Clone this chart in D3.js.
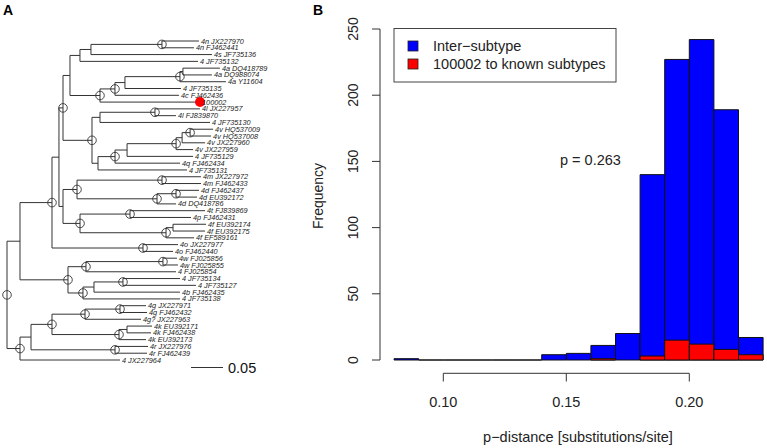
<!DOCTYPE html>
<html><head><meta charset="utf-8">
<script src="https://cdn.jsdelivr.net/npm/d3@7"></script>
<style>body{margin:0;background:#fff}svg{display:block;font-family:"Liberation Sans",Arial,Helvetica,sans-serif}</style>
</head><body><svg id="c" width="767" height="448"></svg>
<script>
// ---------------- data ----------------
// Panel B histogram
const binStarts = [0.08,0.09,0.10,0.11,0.12,0.13,0.14,0.15,0.16,0.17,0.18,0.19,0.20,0.21,0.22];
const binWidth = 0.01;
const interCounts  = [1,0,0,0,0,0,4,5,11,20,140,227,242,189,17];
const sampleCounts = [0,0,0,0,0,0,0,0,1,0,3,15,12,8,4];
const yTicks = [0,50,100,150,200,250];
const xTicks = [0.10,0.15,0.20];
const legendLabels = ["Inter\u2212subtype","100002 to known subtypes"];
const legendColors = ["#0000ff","#ff0000"];
const pValueLabel = "p = 0.263";
const xTitle = "p\u2212distance [substitutions/site]";
const yTitle = "Frequency";

// Panel A tree (Newick pieces, branch lengths in substitutions/site, "*" = supported node)
const highlightTip = "100002";
const scaleBarValue = 0.05;
const scaleBarStart = 0.2875;
const nwB  = "(((4n_JX227970:0.0578,4n_FJ462441:0.05)*:0.1109,4s_JF735136:0.1891):0.0172,4_JF735132:0.1844):0.0156";
const nwF  = "(((((4a_DQ418789:0.0578,4a_DQ988074:0.0453):0.0047,4a_Y11604:0.0719)*:0.0859,4_JF735135:0.0875):0.0156,4c_FJ462436:0.1)*:0.0234,100002:0.1563)*:0.0469";
const nwI  = "((4l_JX227957:0.0703,4l_FJ839870:0.0328)*:0.0859,4_JF735130:0.1719):0.0125";
const nwK  = "((((((4v_HQ537009:0.0359,4v_HQ537008:0.0328)*:0.0125,4v_JX227960:0.0359):0.0094,4v_JX227959:0.0266)*:0.0766,4_JF735129:0.1031):0.0188,4q_FJ462434:0.1016)*:0.0266,4_JF735131:0.1391):0.0094";
const nwMD = "((4m_JX227972:0.0609,4m_FJ462433:0.0609)*:0.1328,((4d_FJ462437:0.0359,4d_EU392172:0.0328)*:0.0297,4d_DQ418786:0.0297)*:0.125)*:0.0219";
const nwTF = "((4t_FJ839869:0.1172,4p_FJ462431:0.0953)*:0.0781,((4f_EU392174:0.0516,4f_EU392175:0.05):0.0109,4f_EF589161:0.0438)*:0.1344)*:0.0266";
const nwO  = "(4o_JX227977:0.0547,4o_FJ462440:0.0469)*:0.1422";
const nwW  = "(((4w_FJ025856:0.0219,4w_FJ025855:0.0234)*:0.1203,4_FJ025854:0.1406)*:0.0281,(((4_JF735134:0.0891,4_JF735127:0.1141)*:0.0453,4b_FJ462435:0.1344):0.0172,4_JF735138:0.1516)*:0.0234)*:0.075";
const nwG2 = "(((4g_JX227971:0.0406,4g_FJ462432:0.0422)*:0.0547,4g?_JX227963:0.0875)*:0.0516,((4k_EU392171:0.0391,4k_FJ462438:0.0375):0.0125,4k_EU392173:0.0422)*:0.1047)*:0.0328";
const nwR2 = "(4r_JX227976:0.0516,4r_FJ462439:0.05)*:0.1313";
const nwTaxon = "4_JX227964:0.1563";

const newick =
  "((((((" + nwB + "," + nwF + "):0.0109,(" + nwI + "," + nwK + ")*:0.0453)*:0.0063,(" + nwMD + "," + nwTF + "):0.0063):0.0109," + nwO + ")*:0.05," + nwW + "):0.0203," +
  "((" + nwG2 + "," + nwR2 + "):0.0172," + nwTaxon + ")*:0.0203)*;";

// ---------------- helpers ----------------
function parseNewick(s){
  let i=0;
  function node(){
    const n={children:[],name:"",length:0};
    if(s[i]==='('){
      i++;
      n.children.push(node());
      while(s[i]===','){i++; n.children.push(node());}
      i++;
    }
    let name="";
    while(i<s.length && !"(),:;".includes(s[i])) name+=s[i++];
    n.name=name.replace(/_/g," ");
    if(s[i]===':'){i++; let num=""; while(i<s.length && !"(),;".includes(s[i])) num+=s[i++]; n.length=+num;}
    return n;
  }
  return node();
}

const svg = d3.select("#c");
const ink = "#333";

// ---------------- Panel A ----------------
const root = d3.hierarchy(parseNewick(newick), d => d.children.length ? d.children : null);
root.eachBefore(d => { d.dist = d.parent ? d.parent.dist + d.data.length : 0; });
const leaves = root.leaves();
leaves.forEach((d,k) => d.yi = k + 1);
root.eachAfter(d => { if (d.children) d.yi = (d.children[0].yi + d.children[d.children.length-1].yi)/2; });

const tx = d3.scaleLinear().domain([0, 0.05]).range([7, 39]);
const ty = d3.scaleLinear().domain([1, leaves.length]).range([41, 360]);

const gA = svg.append("g");
gA.append("text").attr("x",3).attr("y",15).attr("font-weight","bold").attr("font-size",14).text("A");

const nodes = root.descendants();
gA.selectAll("line.h").data(nodes.filter(d=>d.parent)).join("line")
  .attr("x1",d=>tx(d.parent.dist)).attr("x2",d=>tx(d.dist))
  .attr("y1",d=>ty(d.yi)).attr("y2",d=>ty(d.yi))
  .attr("stroke",ink).attr("stroke-width",1);
gA.selectAll("line.v").data(nodes.filter(d=>d.children)).join("line")
  .attr("x1",d=>tx(d.dist)).attr("x2",d=>tx(d.dist))
  .attr("y1",d=>ty(d.children[0].yi)).attr("y2",d=>ty(d.children[d.children.length-1].yi))
  .attr("stroke",ink).attr("stroke-width",1);
gA.selectAll("circle.s").data(nodes.filter(d=>d.children && d.data.name==="*")).join("circle")
  .attr("cx",d=>tx(d.dist)).attr("cy",d=>ty(d.yi)).attr("r",4.3)
  .attr("fill","none").attr("stroke",ink).attr("stroke-width",0.9);
gA.selectAll("circle.hl").data(leaves.filter(d=>d.data.name===highlightTip)).join("circle")
  .attr("cx",d=>tx(d.dist)).attr("cy",d=>ty(d.yi)).attr("r",5).attr("fill","#ff0000");
gA.selectAll("text.tip").data(leaves).join("text")
  .attr("x",d=>tx(d.dist)+2).attr("y",d=>ty(d.yi))
  .attr("dy","0.35em").attr("font-size",7.3).attr("font-style","italic").attr("fill","#222")
  .text(d=>d.data.name);
// scale bar
gA.append("line").attr("x1",tx(scaleBarStart)).attr("x2",tx(scaleBarStart+scaleBarValue))
  .attr("y1",367.5).attr("y2",367.5).attr("stroke",ink).attr("stroke-width",1);
gA.append("text").attr("x",tx(scaleBarStart+scaleBarValue)+5).attr("y",367.5).attr("dy","0.35em")
  .attr("font-size",14.5).attr("fill","#111").text(d3.format(".2f")(scaleBarValue));

// ---------------- Panel B ----------------
const x = d3.scaleLinear().domain([0.10, 0.20]).range([443.3, 689.3]);
const y = d3.scaleLinear().domain([0, 250]).range([360, 29]);
const gB = svg.append("g");
gB.append("text").attr("x",313).attr("y",15).attr("font-weight","bold").attr("font-size",14).text("B");

function barPath(i, v){
  const x0 = x(binStarts[i]), x1 = x(binStarts[i]+binWidth), y0 = y(0), y1 = y(v);
  return `M${x0},${y0}H${x1}V${y1}H${x0}Z`;
}
gB.selectAll("path.inter").data(interCounts).join("path")
  .attr("d",(v,i)=>barPath(i,v)).attr("fill",legendColors[0]).attr("stroke","#111").attr("stroke-width",1);
gB.selectAll("path.sample").data(sampleCounts.map((v,i)=>({v,i})).filter(d=>d.v>0)).join("path")
  .attr("d",d=>barPath(d.i,d.v)).attr("fill",legendColors[1]).attr("stroke","#111").attr("stroke-width",1);

// y axis
const yAxis = gB.append("g");
yAxis.append("line").attr("x1",380).attr("x2",380).attr("y1",y(250)).attr("y2",y(0)).attr("stroke",ink);
yAxis.selectAll("line.t").data(yTicks).join("line")
  .attr("x1",372).attr("x2",380).attr("y1",d=>y(d)).attr("y2",d=>y(d)).attr("stroke",ink);
yAxis.selectAll("text").data(yTicks).join("text")
  .attr("transform",d=>`translate(358,${y(d)}) rotate(-90)`)
  .attr("text-anchor","middle").attr("font-size",14).attr("fill","#222").text(d=>d);
gB.append("text").attr("transform","translate(323,196) rotate(-90)")
  .attr("text-anchor","middle").attr("font-size",14).attr("fill","#222").text(yTitle);

// x axis
const xa = gB.append("g");
xa.append("line").attr("x1",x(xTicks[0])).attr("x2",x(xTicks[xTicks.length-1])).attr("y1",373.3).attr("y2",373.3).attr("stroke",ink);
xa.selectAll("line.t").data(xTicks).join("line")
  .attr("x1",d=>x(d)).attr("x2",d=>x(d)).attr("y1",373.3).attr("y2",381.5).attr("stroke",ink);
xa.selectAll("text").data(xTicks).join("text")
  .attr("x",d=>x(d)).attr("y",402).attr("dy","0.35em").attr("text-anchor","middle")
  .attr("font-size",14.5).attr("fill","#222").text(d=>d3.format(".2f")(d));
gB.append("text").attr("x",578).attr("y",437).attr("dy","0.35em").attr("text-anchor","middle")
  .attr("font-size",14.5).attr("fill","#222").text(xTitle);

// legend
const lg = gB.append("g");
lg.append("rect").attr("x",394).attr("y",28.5).attr("width",222).attr("height",53.5)
  .attr("fill","#fff").attr("stroke","#444").attr("stroke-width",1);
lg.selectAll("rect.k").data(legendLabels).join("rect")
  .attr("x",408).attr("y",(d,i)=>41+i*18).attr("width",10).attr("height",10)
  .attr("fill",(d,i)=>legendColors[i]).attr("stroke","#222").attr("stroke-width",0.8);
lg.selectAll("text").data(legendLabels).join("text")
  .attr("x",433).attr("y",(d,i)=>46+i*18).attr("dy","0.35em")
  .attr("font-size",14.5).attr("fill","#222").text(d=>d);

gB.append("text").attr("x",560).attr("y",160).attr("dy","0.35em").attr("font-size",14.5).attr("fill","#222").text(pValueLabel);
</script></body></html>
